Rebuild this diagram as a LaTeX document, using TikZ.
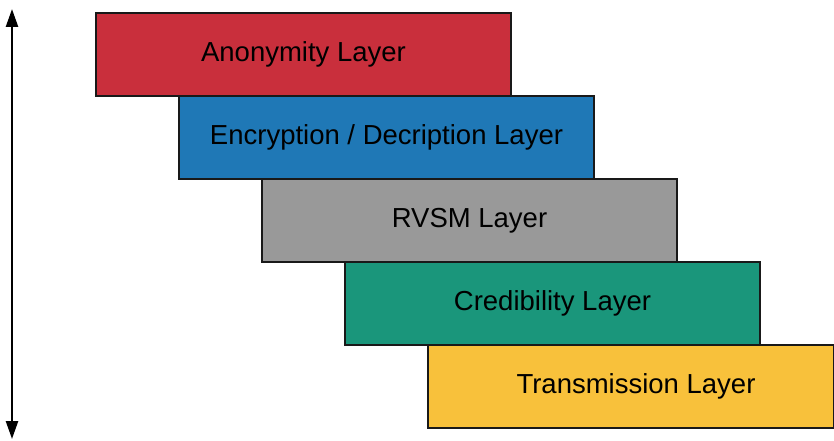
\documentclass[tikz,border=0pt]{standalone}
\usepackage{fontspec}
\setmainfont{Liberation Sans}
\usetikzlibrary{arrows.meta}

\definecolor{anonRed}{HTML}{C92F3C}
\definecolor{cryptBlue}{HTML}{1F78B6}
\definecolor{rvsmGray}{HTML}{999999}
\definecolor{credGreen}{HTML}{1A967B}
\definecolor{transYellow}{HTML}{F8C13B}

\def\boxWidth{415}
\def\boxHeight{83}
\def\boxShift{83}

\tikzset{
  layer/.style={draw=black!90, line width=2pt, anchor=north west,
    minimum height=\boxHeight pt, inner sep=0pt,
    font=\fontsize{27.5}{32}\selectfont},
}

\begin{document}
\begin{tikzpicture}[x=1pt,y=1pt]
    \useasboundingbox (0,0) rectangle (834,440);

    % layers, each one step down and to the right
    \foreach \i/\n/\c/\w/\t in {0/anon/anonRed/415/{Anonymity Layer},
                                1/crypt/cryptBlue/415/{Encryption / Decription Layer},
                                2/rvsm/rvsmGray/415/{RVSM Layer},
                                3/cred/credGreen/415/{Credibility Layer},
                                4/trans/transYellow/406/{\hspace*{10pt}Transmission Layer}} {
      \node[layer, fill=\c, minimum width=\w pt] (\n) at (95+\i*\boxShift, 428-\i*\boxHeight) {\raisebox{1.5pt}{\t}};
    }

    % vertical double arrow
    \coordinate (arrowTop) at (12,431);
    \coordinate (arrowBottom) at (12,1);
    \draw[line width=2.5pt, {Triangle[width=12pt,length=18pt]}-{Triangle[width=12pt,length=18pt]}] (arrowBottom) -- (arrowTop);
  \end{tikzpicture}
\end{document}
